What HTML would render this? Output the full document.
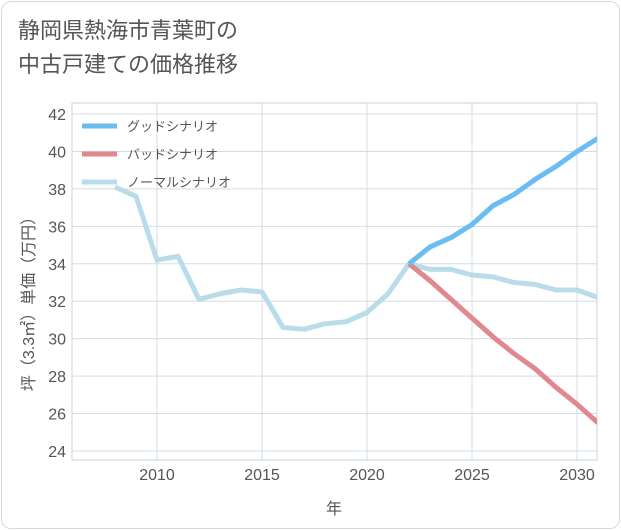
<!DOCTYPE html>
<html><head><meta charset="utf-8"><style>
body{margin:0;background:#fff;font-family:"Liberation Sans","Noto Sans CJK JP",sans-serif;}
#card{position:absolute;left:1px;top:1px;width:617px;height:526px;border:1px solid #d8d8d8;border-radius:10px;background:#fff;}
#title{position:absolute;left:18px;top:14px;font-size:22px;line-height:34px;color:#555;}
</style></head><body>
<div id="card"></div>
<div id="title">静岡県熱海市青葉町の<br>中古戸建ての価格推移</div>
<svg id="chart" width="621" height="530" style="position:absolute;left:0;top:0"></svg>
<script>
const years=[2008,2009,2010,2011,2012,2013,2014,2015,2016,2017,2018,2019,2020,2021,2022,2023,2024,2025,2026,2027,2028,2029,2030,2031];
const normal=[38.1,37.6,34.2,34.4,32.1,32.4,32.6,32.5,30.6,30.5,30.8,30.9,31.4,32.4,34.0,33.7,33.7,33.4,33.3,33.0,32.9,32.6,32.6,32.2];
const goodYears=[2022,2023,2024,2025,2026,2027,2028,2029,2030,2031];
const good=[34.0,34.9,35.4,36.1,37.1,37.7,38.5,39.2,40.0,40.7];
const bad=[34.0,33.1,32.1,31.1,30.1,29.2,28.4,27.4,26.5,25.5];
const xTicks=[2010,2015,2020,2025,2030];
const yTicks=[24,26,28,30,32,34,36,38,40,42];
const X0=72,X1=597,Y0=103,Y1=460;
const xs=v=>157+(v-2010)*21;
const ys=v=>451-(v-24)*(337/18);
const svg=document.getElementById('chart');
const NS='http://www.w3.org/2000/svg';
function mk(t,a){const e=document.createElementNS(NS,t);for(const k in a)e.setAttribute(k,a[k]);svg.appendChild(e);return e;}
const frame=mk('rect',{x:X0,y:Y0,width:X1-X0,height:Y1-Y0,fill:'none',stroke:'#c8d4dc'});


yTicks.forEach(v=>{
 const l=mk('line',{x1:X0,x2:X1,y1:ys(v),y2:ys(v),stroke:'#d0dde6'});
 
 
 const t=mk('text',{x:X0-6,y:ys(v)+6,'text-anchor':'end','font-size':16,fill:'#555'});
 t.textContent=v;
 
 
});
xTicks.forEach(v=>{
 const l=mk('line',{x1:xs(v),x2:xs(v),y1:Y0,y2:Y1,stroke:'#d0dde6'});
 
 
 const t=mk('text',{x:xs(v),y:Y1+20,'text-anchor':'middle','font-size':16,fill:'#555'});
 t.textContent=v;
 
 
});
function line(yrs,vals,col,name){
 const p=mk('polyline',{points:yrs.map((y,i)=>xs(y)+','+ys(vals[i])).join(' '),fill:'none',stroke:col,'stroke-width':5,'stroke-linejoin':'round','clip-path':'url(#clip)'});
 
 
}
const defs=mk('defs',{});
const cp=document.createElementNS(NS,'clipPath');cp.setAttribute('id','clip');
const cr=document.createElementNS(NS,'rect');cr.setAttribute('x',X0);cr.setAttribute('y',Y0);cr.setAttribute('width',X1-X0);cr.setAttribute('height',Y1-Y0);
cp.appendChild(cr);defs.appendChild(cp);
line(years,normal,'#b8dcea','normal-scenario-line');
line(goodYears,bad,'#e0888e','bad-scenario-line');
line(goodYears,good,'#6bbcf0','good-scenario-line');
const leg=[['グッドシナリオ','#6bbcf0'],['バッドシナリオ','#e0888e'],['ノーマルシナリオ','#b8dcea']];
leg.forEach((d,i)=>{
 const y=126+i*28;
 const l=mk('line',{x1:82,x2:117,y1:y,y2:y,stroke:d[1],'stroke-width':5});
 
 
 const t=mk('text',{x:127,y:y+5,'font-size':13,fill:'#555'});
 t.textContent=d[0];
 
 
});
const xt=mk('text',{x:334,y:514,'text-anchor':'middle','font-size':16,fill:'#555'});
xt.textContent='年';


const yt=mk('text',{x:0,y:0,'text-anchor':'middle','font-size':16,fill:'#555',transform:'translate(34,300) rotate(-90)'});
yt.textContent='坪（3.3㎡）単価（万円）';


</script>
</body></html>
